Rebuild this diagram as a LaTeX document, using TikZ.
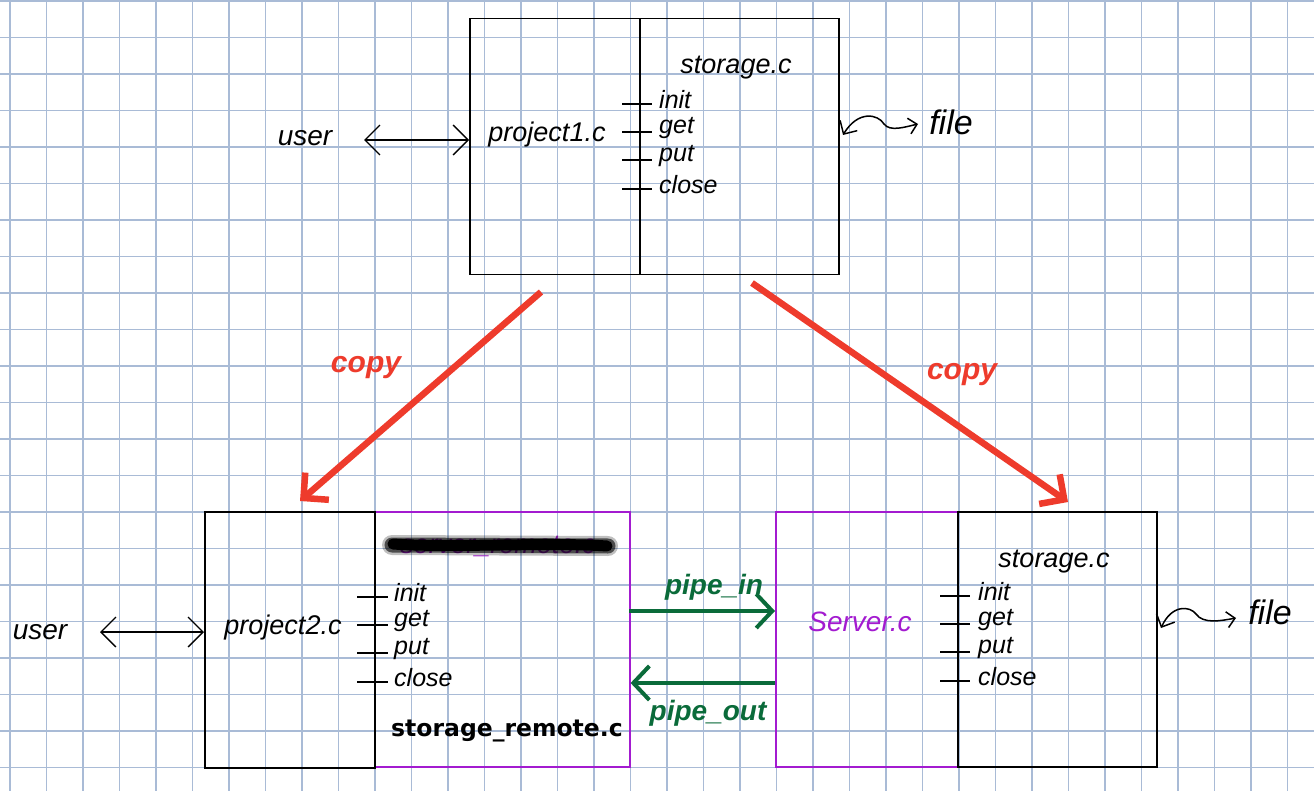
\documentclass[tikz,border=0pt]{standalone}
\usepackage{fontspec}
\setmainfont{Liberation Sans}
\newfontfamily\boldsans{DejaVu Sans}
\usetikzlibrary{arrows.meta}
\definecolor{gridc}{HTML}{A9BBD6}
\definecolor{redc}{HTML}{EE3B2C}
\definecolor{purp}{HTML}{A31BD0}
\definecolor{greenc}{HTML}{0A6B3A}
\tikzset{
  gridline/.style={gridc, line width=1.1pt},
  blackbox/.style={draw=black, line width=1.5pt, inner sep=0pt, anchor=north west},
  purplebox/.style={draw=purp, line width=1.6pt, inner sep=0pt, anchor=north west},
  hand/.style={font={\fontsize{#1}{#1}\selectfont\itshape}, inner sep=0pt},
  tick/.style={line width=1.3pt},
  dblarrow/.style={line width=1.3pt, {Straight Barb[length=15pt,width=30pt]}-{Straight Barb[length=15pt,width=30pt]}},
  copyarrow/.style={redc, line width=6.5pt, -{Straight Barb[length=18pt,width=36pt]}},
  pipearrow/.style={greenc, line width=4pt, -{Straight Barb[length=16pt,width=34pt]}},
  wavy/.style={line width=1.5pt, {Straight Barb[length=10pt,width=20pt]}-{Straight Barb[length=8pt,width=16pt]}},
}
\begin{document}
\begin{tikzpicture}[x=1pt,y=-1pt]
\useasboundingbox (0,0) rectangle (1314,791);
\fill[white] (0,0) rectangle (1314,791);
% grid
\foreach \i in {0,...,35} \draw[gridline] ({10+36.5*\i},0) -- ({10+36.5*\i},791);
\foreach \j in {0,...,21} \draw[gridline] (0,{1+36.5*\j}) -- (1314,{1+36.5*\j});

% ---------- top ----------
\node[blackbox, minimum width=170pt, minimum height=256pt] (p1) at (469,18) {};
\node[blackbox, minimum width=199pt, minimum height=256pt] (s1) at (639,18) {};
\node[hand=27] (p1t) at (547,135) {project1.c};
\node[hand=27] (s1t) at (736,68) {storage.c};
\foreach \y/\t in {104/init,132/get,160/put,189/close}{
  \draw[tick] (622,\y) -- (652,\y);
  \node[hand=25, anchor=west] at (659,{\y-4}) {\t};
}
\node[hand=28] (u1) at (305,138) {user};
\coordinate (u1a) at (364,140);
\draw[dblarrow] (u1a) -- (u1a -| p1.west);
\node[hand=34] (f1) at (951,122) {file};
\coordinate (w1a) at (843,135);
\coordinate (w1b) at (918,124);
\draw[wavy] (w1a) .. controls (858,110) and (878,114) .. (884,124) .. controls (890,132) and (905,127) .. (w1b);

% ---------- copy arrows ----------
\coordinate (c1s) at (541,292);
\coordinate (c1e) at (300,501);
\coordinate (c2s) at (752,283);
\coordinate (c2e) at (1068,502);
\draw[copyarrow] (c1s) -- (c1e);
\draw[copyarrow] (c2s) -- (c2e);
\node[hand=30, redc, font={\fontsize{30}{30}\selectfont\bfseries\itshape}] (cp1) at (366,368) {copy};
\node[hand=30, redc, font={\fontsize{30}{30}\selectfont\bfseries\itshape}] (cp2) at (962,375) {copy};

% ---------- bottom left ----------
\node[purplebox, minimum width=255pt, minimum height=255pt] (sr) at (374,511) {};
\node[blackbox, minimum width=170pt, minimum height=256pt] (p2) at (204,511) {};
\node[hand=27] (p2t) at (283,628) {project2.c};
\foreach \y/\t in {597/init,625/get,653/put,682/close}{
  \draw[tick] (357,\y) -- (388,\y);
  \node[hand=25, anchor=west] at (394,{\y-4}) {\t};
}
\node[hand=27, purp] (scr) at (498,546) {server\_remote.c};
\draw[line width=20pt, black, opacity=0.25, line cap=round] (392,545) -- (608,546);
\draw[line width=15pt, black, opacity=0.6, line cap=round] (392,545) -- (608,546);
\draw[line width=11pt, black, line cap=round] (393,544) .. controls (450,548) and (550,542) .. (607,546);
\node[font={\boldsans\bfseries\fontsize{23.5}{23.5}\selectfont}, inner sep=0pt] (srt) at (507,731) {storage\_remote.c};
\node[hand=28] (u2) at (40,632) {user};
\coordinate (u2a) at (100,632);
\draw[dblarrow] (u2a) -- (u2a -| p2.west);

% ---------- bottom right ----------
\node[purplebox, minimum width=182pt, minimum height=255pt] (sv) at (775,511) {};
\node[blackbox, minimum width=199pt, minimum height=255pt] (s2) at (957,511) {};
\node[hand=28, purp] (svt) at (860,622) {Server.c};
\node[hand=27] (s2t) at (1054,562) {storage.c};
\foreach \y/\t in {596/init,624/get,652/put,681/close}{
  \draw[tick] (940,\y) -- (970,\y);
  \node[hand=25, anchor=west] at (978,{\y-4}) {\t};
}
\node[hand=34] (f2) at (1270,612) {file};
\coordinate (w2a) at (1161,628);
\coordinate (w2b) at (1236,618);
\draw[wavy] (w2a) .. controls (1172,604) and (1190,606) .. (1196,614) .. controls (1203,624) and (1220,621) .. (w2b);

% ---------- pipes ----------
\coordinate (pi) at (629,611);
\coordinate (po) at (775,683);
\draw[pipearrow] (pi) -- (pi -| sv.west);
\draw[pipearrow] (po) -- (po -| sr.east);
\node[greenc, font={\fontsize{28}{28}\selectfont\bfseries\itshape}, inner sep=0pt] (pit) at (714,587) {pipe\_in};
\node[greenc, font={\fontsize{28}{28}\selectfont\bfseries\itshape}, inner sep=0pt] (pot) at (708,713) {pipe\_out};
\end{tikzpicture}
\end{document}
